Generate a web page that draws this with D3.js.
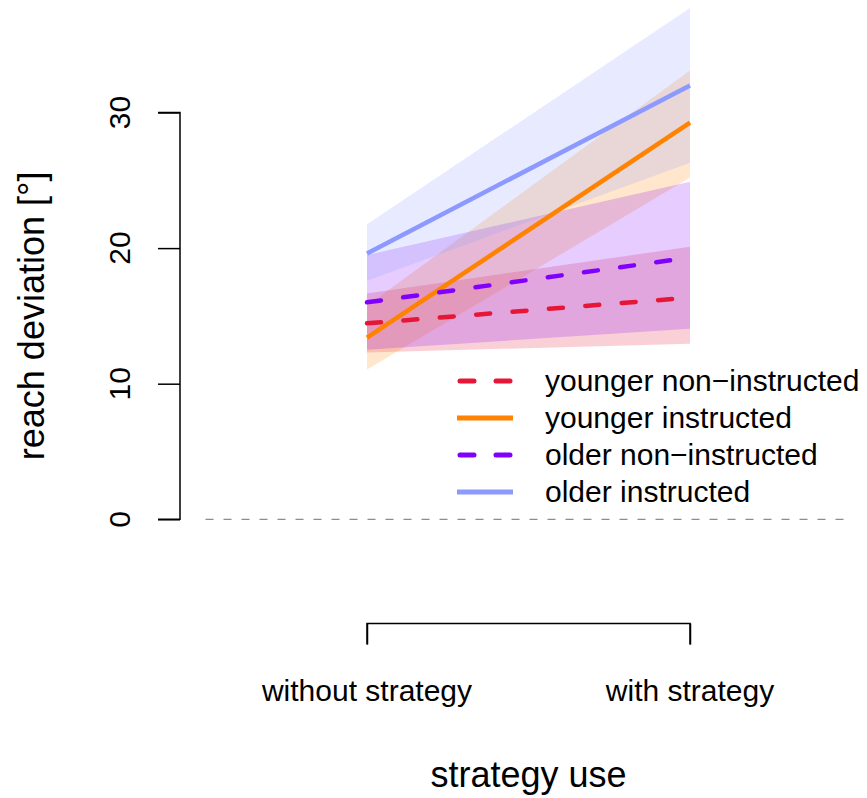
<!DOCTYPE html>
<html>
<head>
<meta charset="utf-8">
<script src="https://cdn.jsdelivr.net/npm/d3@7/dist/d3.min.js"></script>
<style>
  html, body { margin: 0; padding: 0; background: #fff; }
  svg { display: block; }
  text { font-family: "Liberation Sans", Arial, Helvetica, sans-serif; fill: #000; }
</style>
</head>
<body>
<svg id="chart" width="867" height="798"></svg>
<script>
// Strategy-use conditions on the x axis (0 = without, 1 = with)
const conditions = ["without strategy", "with strategy"];
const conditionPos = [0, 1];

// Group labels, in legend order
const groups = ["younger non\u2212instructed", "younger instructed", "older non\u2212instructed", "older instructed"];
const groupColors = ["#e51636", "#ff8200", "#8000ff", "#8c99ff"];
const groupDashed = [true, false, true, false];

// Mean reach deviation per group, [without, with]
const youngerNonInstructed = [14.45, 16.35];
const youngerInstructed = [13.4, 29.25];
const olderNonInstructed = [16.0, 19.3];
const olderInstructed = [19.6, 32.0];

// Confidence bands, lower and upper, [without, with]
const youngerNonInstructedLo = [12.3, 12.95];
const youngerNonInstructedHi = [16.65, 20.1];
const youngerInstructedLo = [11.05, 25.2];
const youngerInstructedHi = [15.75, 33.1];
const olderNonInstructedLo = [12.5, 14.05];
const olderNonInstructedHi = [19.5, 24.9];
const olderInstructedLo = [17.6, 26.3];
const olderInstructedHi = [21.75, 37.7];

// y axis ticks
const yTicks = [0, 10, 20, 30];

const means = [youngerNonInstructed, youngerInstructed, olderNonInstructed, olderInstructed];
const lows = [youngerNonInstructedLo, youngerInstructedLo, olderNonInstructedLo, olderInstructedLo];
const highs = [youngerNonInstructedHi, youngerInstructedHi, olderNonInstructedHi, olderInstructedHi];

const svg = d3.select("#chart");

const x = d3.scaleLinear().domain([0, 1]).range([367, 690]);
const y = d3.scaleLinear().domain([0, 30]).range([519.3, 112.5]);

// zero reference line across the plotting region
svg.append("line")
  .attr("x1", x(-0.5)).attr("x2", x(1.5))
  .attr("y1", y(0)).attr("y2", y(0))
  .attr("stroke", "#8c8c8c").attr("stroke-width", 1.3)
  .attr("stroke-dasharray", "8,10");

// confidence bands
const area = d3.area()
  .x(d => x(d.x))
  .y0(d => y(d.lo))
  .y1(d => y(d.hi));

groups.forEach((g, i) => {
  const pts = conditionPos.map((p, j) => ({ x: p, lo: lows[i][j], hi: highs[i][j] }));
  svg.append("path")
    .attr("d", area(pts))
    .attr("fill", groupColors[i])
    .attr("fill-opacity", 0.2)
    .attr("stroke", "none");
});

// mean lines
const line = d3.line().x(d => x(d.x)).y(d => y(d.v));
groups.forEach((g, i) => {
  const pts = conditionPos.map((p, j) => ({ x: p, v: means[i][j] }));
  svg.append("path")
    .attr("d", line(pts))
    .attr("fill", "none")
    .attr("stroke", groupColors[i])
    .attr("stroke-width", 4.5)
    .attr("stroke-linecap", groupDashed[i] ? "round" : "butt")
    .attr("stroke-dasharray", groupDashed[i] ? "14,22.5" : null);
});

// y axis (left), tick labels drawn parallel to the axis
const yAxis = d3.axisLeft(y).tickValues(yTicks).tickSize(22).tickFormat("");
const yAxisG = svg.append("g").attr("transform", "translate(180,0)").call(yAxis);
yAxisG.select(".domain").attr("stroke", "#000").attr("stroke-width", 1.5)
  .attr("d", `M-22,${y(30)}H0V${y(0)}H-22`);
yAxisG.selectAll(".tick line").attr("stroke", "#000").attr("stroke-width", 1.5);

svg.append("g").selectAll("text")
  .data(yTicks)
  .join("text")
  .attr("transform", d => `translate(130,${y(d)}) rotate(-90)`)
  .attr("text-anchor", "middle")
  .style("font-size", "30px")
  .text(d => d);

// y axis title
svg.append("text")
  .attr("transform", `translate(44,${(y(0) + y(30)) / 2}) rotate(-90)`)
  .attr("text-anchor", "middle")
  .style("font-size", "36px")
  .text("reach deviation [\u00b0]");

// bracket axis for strategy use
const xAxis = d3.axisTop(x).tickValues(conditionPos).tickSize(-21).tickFormat("");
const xAxisG = svg.append("g").attr("transform", "translate(0,623.5)").call(xAxis);
xAxisG.select(".domain").attr("stroke", "#000").attr("stroke-width", 1.5)
  .attr("d", `M${x(0)},21V0H${x(1)}V21`);
xAxisG.selectAll(".tick line").attr("stroke", "#000").attr("stroke-width", 1.5);

svg.append("g").selectAll("text")
  .data(conditions)
  .join("text")
  .attr("x", (d, i) => x(conditionPos[i]))
  .attr("y", 701)
  .attr("text-anchor", "middle")
  .style("font-size", "30px")
  .text(d => d);

// x axis title
svg.append("text")
  .attr("x", x(0.5))
  .attr("y", 787)
  .attr("text-anchor", "middle")
  .style("font-size", "36px")
  .text("strategy use");

// legend
const legend = svg.append("g");
const legendRowY = [381, 418, 455, 492];
groups.forEach((g, i) => {
  legend.append("line")
    .attr("x1", groupDashed[i] ? 460 : 457).attr("x2", groupDashed[i] ? 510 : 513)
    .attr("y1", legendRowY[i]).attr("y2", legendRowY[i])
    .attr("stroke", groupColors[i])
    .attr("stroke-width", 5)
    .attr("stroke-linecap", groupDashed[i] ? "round" : "butt")
    .attr("stroke-dasharray", groupDashed[i] ? "14,22" : null);
  legend.append("text")
    .attr("x", 545)
    .attr("y", legendRowY[i] + 10)
    .style("font-size", "30px")
    .text(g);
});
</script>
</body>
</html>
